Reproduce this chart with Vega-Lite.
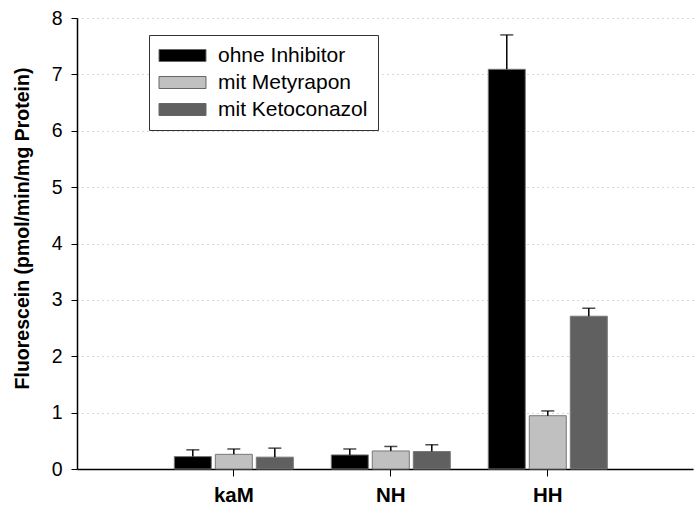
{
  "$schema": "https://vega.github.io/schema/vega-lite/v6.json",
  "width": 616,
  "height": 451,
  "autosize": {"type": "none"},
  "padding": {"left": 77, "top": 18, "right": 1, "bottom": 43},
  "background": "white",
  "data": {
    "values": [
      {"group": "kaM", "cond": "ohne Inhibitor", "value": 0.22, "upper": 0.34},
      {"group": "kaM", "cond": "mit Metyrapon", "value": 0.26, "upper": 0.355},
      {"group": "kaM", "cond": "mit Ketoconazol", "value": 0.21, "upper": 0.37},
      {"group": "NH", "cond": "ohne Inhibitor", "value": 0.25, "upper": 0.355},
      {"group": "NH", "cond": "mit Metyrapon", "value": 0.32, "upper": 0.40},
      {"group": "NH", "cond": "mit Ketoconazol", "value": 0.31, "upper": 0.43},
      {"group": "HH", "cond": "ohne Inhibitor", "value": 7.09, "upper": 7.70},
      {"group": "HH", "cond": "mit Metyrapon", "value": 0.945, "upper": 1.03},
      {"group": "HH", "cond": "mit Ketoconazol", "value": 2.71, "upper": 2.85}
    ]
  },
  "config": {
    "font": "Liberation Sans",
    "view": {"stroke": null},
    "axis": {"labelFont": "Liberation Sans", "titleFont": "Liberation Sans", "labelColor": "black", "titleColor": "black", "tickColor": "black", "domainColor": "black"}
  },
  "encoding": {
    "x": {
      "field": "group", "type": "nominal", "sort": ["kaM", "NH", "HH"],
      "scale": {"paddingInner": 0, "paddingOuter": 0.462, "align": 0.54},
      "axis": {"title": null, "labelAngle": 0, "labelFontSize": 20.5, "labelFontWeight": "bold", "tickSize": 7, "tickWidth": 1, "domainWidth": 1.5, "labelPadding": 9, "grid": false}
    },
    "xOffset": {
      "field": "cond", "type": "nominal", "sort": ["ohne Inhibitor", "mit Metyrapon", "mit Ketoconazol"],
      "scale": {"paddingInner": 0.0976, "paddingOuter": 0.463}
    }
  },
  "layer": [
    {
      "mark": {"type": "bar", "stroke": "#777777", "strokeWidth": 1},
      "encoding": {
        "y": {
          "field": "value", "type": "quantitative",
          "scale": {"domain": [0, 8], "nice": false},
          "axis": {
            "title": "Fluorescein (pmol/min/mg Protein)",
            "titleFontSize": 19.5, "titleFontWeight": "bold",
            "titleX": -55, "titleY": 210, "titleBaseline": "middle",
            "labelFontSize": 19.5, "labelPadding": 9, "tickSize": 6, "tickWidth": 1, "domainWidth": 1.5,
            "values": [0, 1, 2, 3, 4, 5, 6, 7, 8], "format": "d",
            "grid": true, "gridColor": "#b0b0b0", "gridDash": [1, 4], "gridWidth": 1
          }
        },
        "color": {
          "field": "cond", "type": "nominal",
          "scale": {"domain": ["ohne Inhibitor", "mit Metyrapon", "mit Ketoconazol"], "range": ["#000000", "#c0c0c0", "#606060"]},
          "legend": {
            "title": null, "orient": "none", "legendX": 72, "legendY": 17,
            "symbolType": "M-1.75,-1H6.083V1H-1.75Z", "symbolSize": 144,
            "symbolStrokeColor": "#666666", "symbolStrokeWidth": 1, "symbolOpacity": 1,
            "labelFontSize": 21, "labelOffset": 38, "labelColor": "black", "labelFont": "Liberation Sans",
            "rowPadding": 5, "padding": 10, "strokeColor": "#333333", "fillColor": "white"
          }
        }
      }
    },
    {
      "mark": {"type": "rule", "color": "black", "strokeWidth": 1.5},
      "encoding": {
        "y": {"field": "value", "type": "quantitative"},
        "y2": {"field": "upper"}
      }
    },
    {
      "mark": {"type": "tick", "color": "black", "thickness": 1.5, "size": 13, "orient": "horizontal"},
      "encoding": {
        "y": {"field": "upper", "type": "quantitative"}
      }
    }
  ]
}
